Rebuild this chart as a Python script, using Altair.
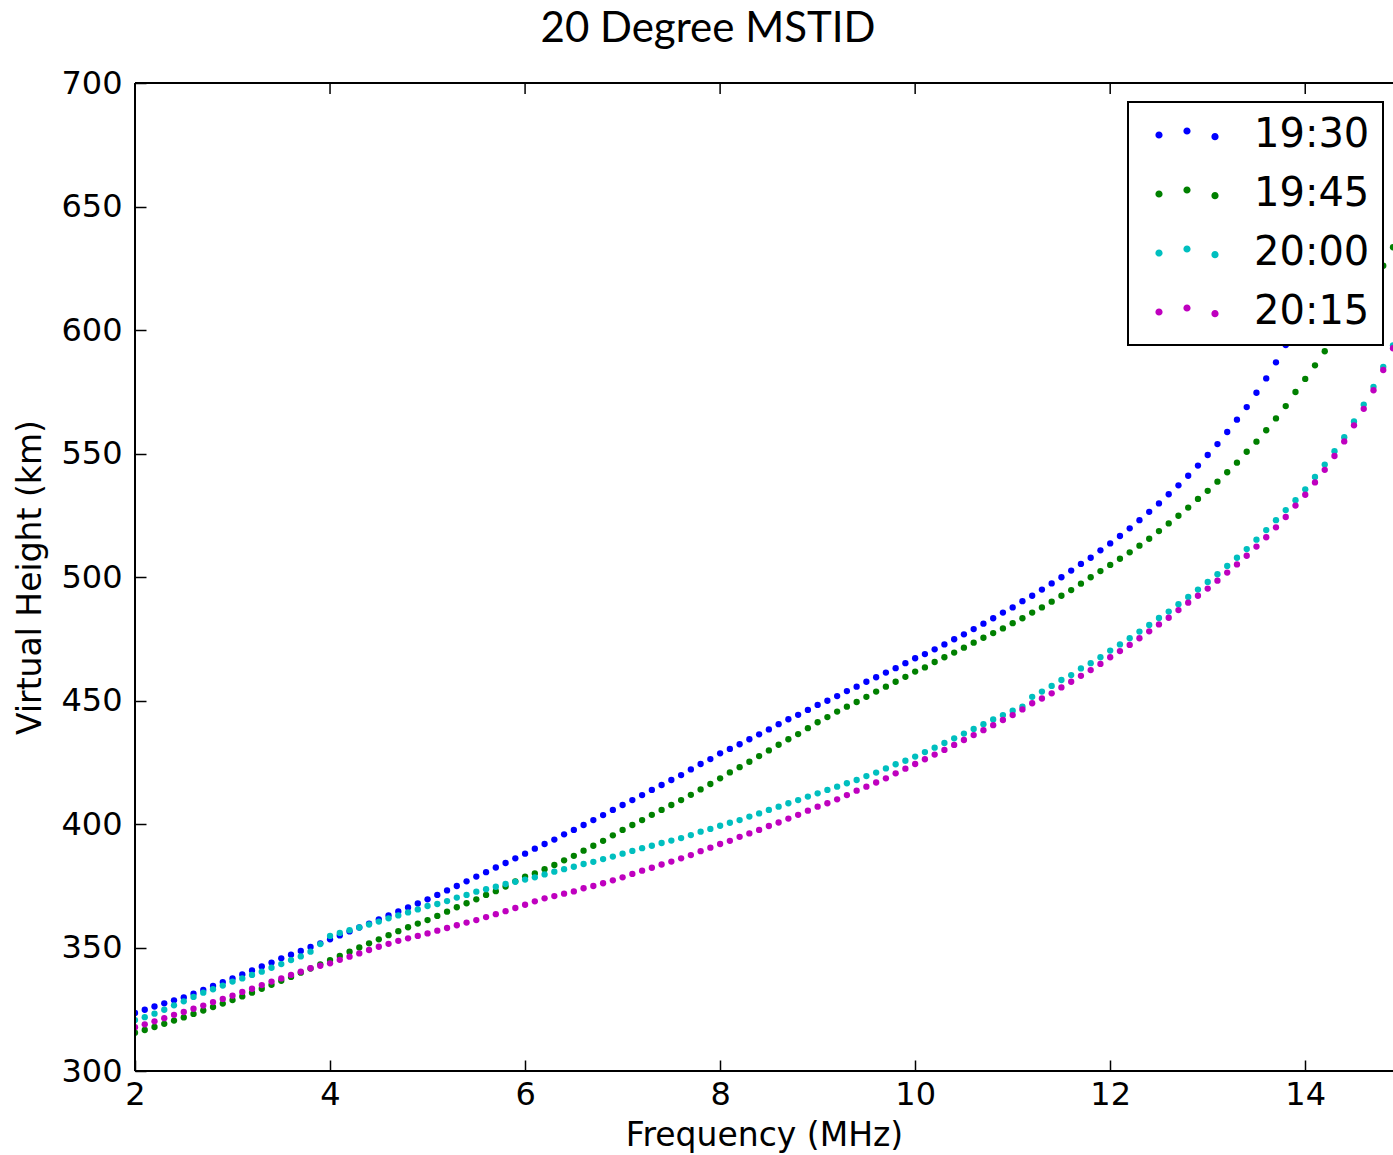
import altair as alt
import pandas as pd

# ---------------- data ----------------
FREQ_START = 2.0   # MHz, first sample
FREQ_STEP = 0.1    # MHz, sampling step

SERIES = ["19:30", "19:45", "20:00", "20:15"]
COLORS = ["#0000ff", "#008000", "#00bfbf", "#bf00bf"]

H_1930 = [
    323.5, 324.8, 326.1, 327.4, 328.6, 329.8, 331.3, 332.8, 334.4, 336.0,
    337.5, 339.1, 340.7, 342.3, 343.9, 345.6, 347.1, 348.6, 350.2, 351.7,
    353.3, 354.9, 356.5, 358.1, 359.7, 361.4, 363.0, 364.6, 366.2, 367.8,
    369.5, 371.3, 373.1, 374.9, 376.8, 378.7, 380.5, 382.4, 384.2, 386.1,
    388.0, 390.0, 391.9, 393.7, 395.8, 397.6, 399.6, 401.6, 403.6, 405.7,
    407.7, 409.7, 411.7, 413.8, 415.8, 417.8, 419.8, 422.1, 424.3, 426.3,
    428.6, 430.4, 432.3, 434.3, 436.3, 438.3, 440.4, 442.4, 444.2, 446.2,
    448.2, 449.9, 451.8, 453.8, 455.6, 457.6, 459.4, 461.3, 463.1, 465.1,
    467.1, 468.8, 470.7, 472.7, 474.8, 476.8, 478.9, 481.1, 483.3, 485.6,
    487.7, 490.2, 492.4, 494.9, 497.4, 499.9, 502.6, 505.3, 507.8, 510.8,
    513.6, 516.6, 519.7, 523.0, 526.4, 529.8, 533.5, 537.1, 541.0, 545.1,
    549.4, 553.8, 558.7, 563.7, 568.8, 574.6, 580.4, 586.9, 593.9, 601.5,
]

H_1945 = [
    315.5, 316.6, 317.8, 319.1, 320.4, 321.7, 323.1, 324.5, 325.9, 327.3,
    328.7, 330.2, 331.7, 333.3, 334.9, 336.5, 338.1, 339.8, 341.5, 343.2,
    344.9, 346.6, 348.3, 350.0, 351.7, 353.3, 355.0, 356.6, 358.2, 359.7,
    361.1, 362.8, 364.5, 366.3, 367.9, 369.5, 371.3, 372.8, 374.7, 376.8,
    378.7, 380.0, 381.7, 383.4, 385.3, 387.1, 389.2, 391.2, 393.2, 395.4,
    397.6, 399.6, 401.6, 403.7, 405.7, 407.7, 409.7, 411.8, 414.0, 416.2,
    418.5, 420.9, 423.0, 425.2, 427.5, 429.8, 432.1, 434.3, 436.4, 438.8,
    441.2, 443.3, 445.5, 447.5, 449.4, 451.5, 453.6, 455.6, 457.6, 459.6,
    461.7, 463.4, 465.6, 467.5, 469.4, 471.4, 473.4, 475.4, 477.3, 479.2,
    481.3, 483.3, 485.6, 487.7, 490.0, 492.4, 494.7, 497.3, 499.9, 502.4,
    504.9, 507.4, 510.0, 512.7, 515.5, 518.6, 521.7, 524.8, 528.1, 531.6,
    534.9, 538.6, 542.4, 546.3, 550.7, 554.8, 559.4, 564.2, 569.2, 574.9,
    580.2, 585.7, 591.4, 596.9, 602.5, 608.2, 614.0, 619.9, 626.0, 633.5,
]

H_2000 = [
    320.6, 321.8, 323.2, 324.8, 326.6, 328.2, 330.0, 331.7, 333.1, 334.6,
    336.2, 337.5, 338.9, 340.2, 341.8, 343.3, 344.9, 346.4, 348.3, 351.4,
    354.7, 355.9, 357.0, 358.1, 359.3, 360.5, 361.8, 363.0, 364.2, 365.4,
    366.8, 367.6, 368.8, 370.2, 371.3, 372.6, 373.6, 374.6, 375.7, 376.6,
    377.5, 378.4, 379.6, 380.7, 381.7, 382.7, 383.8, 384.7, 385.8, 386.8,
    388.0, 389.1, 390.2, 391.2, 392.3, 393.3, 394.3, 395.5, 396.9, 398.0,
    399.3, 400.5, 401.6, 403.0, 404.3, 405.7, 407.0, 408.4, 409.7, 411.1,
    412.4, 413.8, 415.1, 416.5, 417.8, 419.4, 420.8, 422.5, 424.2, 425.6,
    427.3, 429.1, 430.9, 432.8, 434.7, 436.6, 438.5, 440.4, 442.3, 444.1,
    445.9, 447.5, 451.5, 453.6, 455.9, 458.3, 460.3, 463.0, 465.1, 467.5,
    470.2, 472.7, 475.2, 477.9, 480.6, 483.4, 486.0, 489.0, 491.9, 494.9,
    498.0, 501.1, 504.5, 507.8, 511.3, 515.1, 519.0, 523.0, 527.1, 531.1,
    535.5, 540.5, 545.5, 550.9, 556.6, 563.0, 569.8, 577.0, 585.1, 593.8,
]

H_2015 = [
    317.7, 318.9, 320.1, 321.4, 322.7, 323.9, 325.2, 326.5, 327.9, 329.2,
    330.5, 332.0, 333.3, 334.8, 336.2, 337.5, 338.9, 340.2, 341.6, 342.6,
    343.6, 345.0, 346.3, 347.6, 349.0, 350.3, 351.5, 352.7, 353.7, 354.7,
    355.7, 356.8, 357.9, 359.0, 360.1, 361.1, 362.3, 363.5, 364.7, 366.0,
    367.3, 368.7, 369.9, 370.8, 371.8, 372.7, 374.0, 374.9, 376.0, 377.2,
    378.4, 379.8, 381.1, 382.3, 383.6, 384.8, 386.1, 387.4, 389.0, 390.4,
    391.9, 393.2, 394.8, 396.2, 397.6, 399.2, 400.6, 402.2, 403.7, 405.4,
    407.0, 408.4, 410.0, 411.7, 413.5, 415.1, 416.8, 418.5, 420.5, 422.4,
    424.3, 426.2, 428.1, 430.0, 432.0, 434.0, 436.0, 438.0, 440.0, 442.1,
    444.1, 446.4, 448.9, 450.8, 452.9, 455.3, 457.6, 460.0, 462.3, 464.8,
    467.5, 470.0, 472.5, 475.2, 478.0, 480.8, 483.5, 486.6, 489.6, 492.4,
    495.3, 498.5, 501.8, 505.1, 508.6, 512.3, 516.1, 520.1, 524.3, 528.9,
    533.3, 538.3, 543.4, 549.0, 554.9, 561.4, 568.1, 575.6, 583.8, 592.6,
]

X_TICKS = [2, 4, 6, 8, 10, 12, 14]
Y_TICKS = [300, 350, 400, 450, 500, 550, 600, 650, 700]
X_DOMAIN = [2, 14.9]
Y_DOMAIN = [300, 700]

TITLE = "20 Degree MSTID"
X_TITLE = "Frequency (MHz)"
Y_TITLE = "Virtual Height (km)"

# ---------------- table ----------------
rows = []
for name, vals in zip(SERIES, [H_1930, H_1945, H_2000, H_2015]):
    for i, v in enumerate(vals):
        rows.append({"freq": round(FREQ_START + FREQ_STEP * i, 2), "height": v, "time": name})
df = pd.DataFrame(rows)
ticks_df = pd.DataFrame({"v": X_TICKS})
one = pd.DataFrame({"k": [0]})

# ---------------- layout ----------------
W, H = 1258, 988
TICK = 11
AX_FONT = "DejaVu Sans"


def dot(cx, cy, r):
    return (f"M{cx - r},{cy} A{r},{r} 0 1,0 {cx + r},{cy} "
            f"A{r},{r} 0 1,0 {cx - r},{cy} Z ")


# legend symbol: three dots like matplotlib scatter legend
LEG_SYMBOL = dot(-2.8, 0.0, 0.36) + dot(0.0, -0.4, 0.36) + dot(2.8, 0.17, 0.36)

xscale = alt.Scale(domain=X_DOMAIN, nice=False, zero=False)
yscale = alt.Scale(domain=Y_DOMAIN, nice=False, zero=False)

points = alt.Chart(df).mark_circle(size=40, opacity=1, clip=True).encode(
    x=alt.X("freq:Q", scale=xscale,
            axis=alt.Axis(values=X_TICKS, format="d", orient="bottom", offset=-TICK,
                          tickSize=TICK, tickColor="black", tickWidth=1.5,
                          domain=False, grid=False,
                          labelFont=AX_FONT, labelFontSize=32, labelColor="black",
                          labelPadding=8, labelFlush=False,
                          title=X_TITLE, titleFont=AX_FONT, titleFontSize=33,
                          titleFontWeight="normal", titleColor="black",
                          titleBaseline="middle", titleY=75)),
    y=alt.Y("height:Q", scale=yscale,
            axis=alt.Axis(values=Y_TICKS, format="d", orient="left", offset=-TICK,
                          tickSize=TICK, tickColor="black", tickWidth=1.5,
                          domain=False, grid=False,
                          labelFont=AX_FONT, labelFontSize=32, labelColor="black",
                          labelPadding=13, labelFlush=False,
                          title=Y_TITLE, titleFont=AX_FONT, titleFontSize=33,
                          titleFontWeight="normal", titleColor="black",
                          titleBaseline="middle", titleX=-116, titleY=H / 2)),
    color=alt.Color("time:N",
                    scale=alt.Scale(domain=SERIES, range=COLORS),
                    legend=alt.Legend(title=None, orient="none", legendX=993, legendY=19,
                                      symbolType=LEG_SYMBOL, symbolSize=400,
                                      symbolStrokeWidth=0, symbolOpacity=1,
                                      symbolOffset=26,
                                      labelFont=AX_FONT, labelFontSize=40,
                                      labelColor="black", labelOffset=47,
                                      padding=13, rowPadding=19,
                                      strokeColor="black", fillColor="white",
                                      cornerRadius=0)),
)

top_ticks = alt.Chart(ticks_df).mark_rule(color="black", strokeWidth=1.5).encode(
    x=alt.X("v:Q", scale=xscale),
    y=alt.value(0), y2=alt.value(TICK),
)

spine_left = alt.Chart(one).mark_rule(color="black", strokeWidth=2).encode(
    x=alt.value(0), y=alt.value(0), y2=alt.value(H))
spine_bottom = alt.Chart(one).mark_rule(color="black", strokeWidth=2).encode(
    x=alt.value(0), x2=alt.value(W), y=alt.value(H))
spine_top = alt.Chart(one).mark_rule(color="black", strokeWidth=2).encode(
    x=alt.value(0), x2=alt.value(W), y=alt.value(0))

# chart title (centred over the picture, as in the reference)
title = alt.Chart(one).mark_text(
    text=TITLE, font="Lato", fontSize=42, color="black",
    align="center", baseline="alphabetic",
).encode(x=alt.value(573), y=alt.value(-41))

chart = alt.layer(points, top_ticks, spine_left, spine_bottom, spine_top, title).properties(
    width=W, height=H,
    autosize=alt.AutoSizeParams(type="none"),
    padding={"left": 135, "top": 83, "right": 0, "bottom": 84},
).configure_view(stroke=None).configure_legend(strokeWidth=2)

chart.save("out.html", embed_options={"renderer": "svg", "actions": False})
